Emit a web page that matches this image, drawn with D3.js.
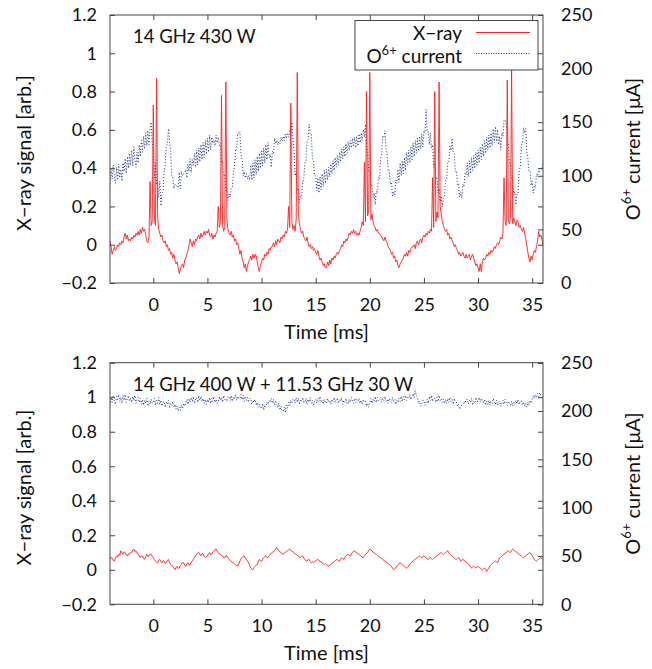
<!DOCTYPE html>
<html><head><meta charset="utf-8">
<script src="https://cdn.jsdelivr.net/npm/d3@7"></script>
<style>
body{margin:0;background:#fff}
text{font-family:Lato, "Open Sans", sans-serif; fill:#111;}
</style>
</head><body>
<svg id="chart" width="652" height="669"></svg>
<script>
// ---- data ----
const tStart = -4;          // ms, first sample
const tStep = 0.1;          // ms between samples

// Top panel: 14 GHz 430 W
const xrayTop = [
0.02,-0.01,-0.05,-0.03,-0.01,-0.03,-0.02,0.00,-0.01,0.01,
0.00,0.02,0.01,0.04,0.06,0.03,0.05,0.02,0.03,0.02,
0.04,0.03,0.05,0.04,0.06,0.05,0.07,0.05,0.08,0.06,
0.09,0.07,0.08,0.05,0.02,0.01,0.04,0.33,0.10,0.12,
0.73,0.14,0.10,0.87,0.15,0.08,0.06,0.04,0.05,0.02,
0.01,0.02,-0.01,0.00,-0.03,-0.02,-0.05,-0.04,-0.07,-0.05,
-0.08,-0.10,-0.09,-0.12,-0.15,-0.13,-0.11,-0.10,-0.12,-0.08,
-0.07,-0.05,-0.03,0.00,0.03,0.01,-0.01,0.02,0.00,0.03,
0.02,0.04,0.05,0.03,0.06,0.04,0.05,0.07,0.05,0.07,
0.06,0.08,0.05,0.04,0.06,0.03,0.05,0.04,0.06,0.07,
0.20,0.09,0.12,0.78,0.10,0.07,0.09,0.85,0.13,0.08,
0.06,0.05,0.07,0.04,0.05,0.02,0.03,0.00,0.01,-0.02,
-0.05,-0.03,-0.07,-0.09,-0.12,-0.10,-0.14,-0.11,-0.09,-0.08,
-0.06,-0.08,-0.05,-0.07,-0.05,-0.06,-0.09,-0.12,-0.14,-0.11,
-0.09,-0.07,-0.08,-0.05,-0.06,-0.04,-0.05,-0.02,-0.03,-0.01,
-0.01,0.01,-0.01,0.02,0.00,0.03,0.02,0.01,0.04,0.03,
0.05,0.04,0.07,0.06,0.08,0.20,0.09,0.74,0.12,0.08,
0.10,0.07,0.13,0.90,0.16,0.11,0.08,0.06,0.07,0.04,
0.03,0.02,0.04,0.01,-0.01,0.00,-0.02,-0.01,-0.03,-0.02,
-0.04,-0.05,-0.03,-0.06,-0.08,-0.07,-0.09,-0.11,-0.10,-0.12,
-0.12,-0.09,-0.11,-0.08,-0.10,-0.07,-0.08,-0.06,-0.07,-0.05,
-0.04,-0.05,-0.03,-0.02,0.00,-0.01,0.02,0.01,0.03,0.02,
0.04,0.06,0.05,0.07,0.06,0.08,0.06,0.07,0.05,0.06,
0.05,0.07,0.09,0.12,0.10,0.43,0.12,0.80,0.15,0.18,
0.90,0.13,0.16,0.12,0.10,0.09,0.07,0.08,0.06,0.06,
0.05,0.04,0.03,0.02,0.04,0.02,0.01,-0.01,-0.02,-0.03,
-0.05,-0.04,-0.07,-0.06,-0.09,-0.08,-0.11,-0.12,-0.10,-0.09,
-0.08,-0.07,-0.05,-0.06,-0.04,-0.06,-0.03,-0.04,-0.02,-0.01,
-0.01,0.00,-0.02,0.01,0.02,0.00,0.02,0.03,0.01,0.04,
0.05,0.04,0.06,0.05,0.07,0.06,0.08,0.07,0.35,0.09,
0.80,0.12,0.17,0.14,0.85,0.20,0.16,0.12,0.10,0.08,
0.07,0.08,0.05,0.06,0.03,0.04,0.02,0.01,-0.01,0.00,
-0.02,-0.03,-0.05,-0.04,-0.06,-0.05,-0.04,-0.06,-0.07,-0.05,
-0.07,-0.06,-0.05,-0.08,-0.06,-0.05,-0.07,-0.09,-0.11,-0.10,
-0.12,-0.14,-0.10,-0.14,-0.09,-0.07,-0.08,-0.07,-0.05,-0.06,
-0.04,-0.05,-0.03,-0.04,-0.03,-0.01,-0.02,0.00,0.01,0.00,
0.02,0.04,0.03,0.06,0.35,0.12,0.10,0.86,0.13,0.11,
0.15,0.93,0.11,0.14,0.12,0.10,0.13,0.12,0.09,0.10,
0.08,0.07,0.09,0.06,0.03,0.00,-0.04,-0.07,-0.09,-0.06,
-0.08,-0.05,-0.03,-0.04,-0.01,0.02,0.07,0.04,0.05,0.03,
-0.01
];

const currentTop = [
92,106,97,110,99,93,108,96,111,98,
106,95,112,104,116,102,118,107,121,110,
124,109,127,114,108,122,112,129,118,133,
122,137,125,140,128,142,129,144,150,132,
122,98,112,92,95,80,95,72,84,85,
104,110,128,130,144,132,124,100,99,88,
92,91,90,89,103,88,104,100,102,103,
106,98,111,104,116,103,115,110,121,108,
124,110,126,113,129,115,131,117,133,120,
135,122,138,124,136,130,134,128,138,131,
136,128,130,112,114,100,101,86,88,77,
83,80,88,89,104,108,125,124,140,139,
141,120,117,100,104,98,102,97,100,96,
110,96,112,98,115,101,118,104,121,107,
123,109,126,112,129,115,131,117,120,108,
123,121,135,130,133,129,132,130,136,132,
137,133,139,135,140,136,142,140,150,136,
124,100,103,86,88,75,81,79,94,97,
112,114,133,134,148,139,139,116,114,100,
100,86,98,84,99,87,102,90,105,93,
106,96,108,99,111,102,114,105,117,108,
119,110,122,113,125,116,127,118,130,121,
132,124,133,126,135,127,136,126,137,128,
139,131,140,133,143,136,148,128,122,104,
104,90,92,80,84,73,86,84,99,97,
116,120,137,136,142,124,121,104,105,92,
94,81,85,82,96,93,106,94,112,100,
114,102,117,105,122,110,124,112,127,115,
131,118,133,121,135,123,137,125,139,127,
142,140,162,142,142,129,140,126,129,108,
112,97,99,84,88,76,81,71,80,81,
96,97,112,112,128,124,135,122,121,104,
105,91,92,80,85,79,92,90,103,101,
112,99,114,102,117,105,119,107,122,110,
124,112,127,115,130,118,133,121,136,124,
138,126,140,128,144,131,146,132,143,129,
137,124,140,137,152,151,151,134,130,111,
112,96,96,82,85,73,84,84,105,108,
128,131,145,140,144,122,117,104,104,91,
95,84,91,89,102,100,105,104,108,106,
114
];

// Bottom panel: 14 GHz 400 W + 11.53 GHz 30 W
const xrayBottom = [
0.060,0.072,0.068,0.055,0.050,0.066,0.080,0.074,0.090,0.083,
0.110,0.098,0.090,0.104,0.100,0.088,0.080,0.093,0.090,0.101,
0.100,0.115,0.120,0.108,0.110,0.097,0.090,0.082,0.070,0.079,
0.080,0.068,0.060,0.075,0.090,0.078,0.080,0.092,0.090,0.078,
0.070,0.060,0.050,0.045,0.040,0.055,0.060,0.048,0.040,0.052,
0.050,0.038,0.040,0.055,0.060,0.042,0.030,0.025,0.020,0.012,
0.000,0.012,0.020,0.008,0.010,0.024,0.030,0.042,0.040,0.028,
0.020,0.034,0.040,0.028,0.030,0.045,0.050,0.062,0.070,0.080,
0.090,0.098,0.100,0.088,0.080,0.094,0.090,0.078,0.070,0.076,
0.080,0.092,0.100,0.088,0.090,0.104,0.110,0.116,0.120,0.108,
0.100,0.092,0.090,0.082,0.080,0.070,0.070,0.082,0.080,0.068,
0.060,0.054,0.050,0.042,0.040,0.034,0.030,0.024,0.020,0.034,
0.050,0.062,0.070,0.078,0.080,0.070,0.060,0.052,0.040,0.024,
0.010,0.004,0.000,0.012,0.020,0.026,0.030,0.046,0.060,0.052,
0.050,0.062,0.070,0.078,0.080,0.072,0.070,0.082,0.090,0.096,
0.100,0.108,0.110,0.122,0.130,0.118,0.110,0.104,0.100,0.092,
0.090,0.098,0.100,0.108,0.110,0.116,0.120,0.112,0.110,0.104,
0.100,0.092,0.090,0.084,0.080,0.074,0.070,0.078,0.080,0.068,
0.060,0.052,0.050,0.058,0.060,0.048,0.040,0.046,0.040,0.048,
0.050,0.058,0.060,0.052,0.050,0.044,0.040,0.034,0.030,0.036,
0.030,0.022,0.020,0.028,0.030,0.038,0.040,0.046,0.050,0.058,
0.060,0.052,0.050,0.062,0.070,0.064,0.060,0.072,0.080,0.086,
0.090,0.082,0.080,0.092,0.100,0.108,0.110,0.102,0.100,0.094,
0.090,0.084,0.080,0.072,0.070,0.082,0.090,0.094,0.100,0.112,
0.120,0.114,0.110,0.102,0.100,0.092,0.090,0.084,0.080,0.074,
0.070,0.064,0.060,0.054,0.050,0.044,0.040,0.036,0.030,0.024,
0.020,0.008,0.000,0.006,0.010,0.022,0.030,0.036,0.040,0.034,
0.030,0.024,0.020,0.012,0.010,0.016,0.020,0.032,0.040,0.046,
0.050,0.056,0.060,0.068,0.070,0.078,0.080,0.074,0.070,0.076,
0.080,0.074,0.070,0.062,0.060,0.068,0.070,0.064,0.060,0.066,
0.070,0.078,0.080,0.088,0.090,0.096,0.100,0.094,0.090,0.096,
0.100,0.106,0.110,0.098,0.090,0.084,0.080,0.074,0.070,0.064,
0.060,0.066,0.070,0.062,0.050,0.056,0.060,0.054,0.050,0.044,
0.040,0.034,0.030,0.018,0.010,0.016,0.020,0.014,0.010,0.016,
0.020,0.014,0.010,0.004,0.000,0.006,0.010,0.002,-0.010,0.002,
0.010,0.022,0.030,0.036,0.040,0.046,0.050,0.046,0.040,0.054,
0.070,0.074,0.080,0.086,0.090,0.096,0.100,0.106,0.110,0.104,
0.100,0.112,0.120,0.114,0.110,0.104,0.100,0.094,0.090,0.084,
0.080,0.074,0.070,0.076,0.080,0.086,0.090,0.096,0.100,0.092,
0.080,0.072,0.060,0.054,0.050,0.056,0.060,0.066,0.070,0.064,
0.070
];

const currentBottom = [
206,214,209,216,211,207,215,212,217,210,
214,208,216,211,217,209,213,216,210,214,
209,215,211,216,208,212,214,209,213,207,
212,206,211,208,213,205,210,207,212,208,
209,213,206,211,208,214,207,211,205,209,
210,204,209,207,211,203,208,206,210,204,
207,202,205,200,204,201,206,203,208,205,
208,212,207,213,209,214,210,215,208,212,
214,209,216,211,215,210,213,208,212,207,
212,209,214,208,213,210,215,209,212,208,
210,215,211,214,209,216,212,213,210,215,
215,211,216,210,214,212,217,211,215,213,
213,217,212,216,210,215,211,214,209,213,
213,207,211,209,212,206,209,204,207,203,
203,208,201,206,204,209,207,211,209,213,
208,212,206,211,207,204,208,201,205,200,
200,204,199,206,203,209,206,211,208,212,
212,208,214,209,213,207,212,210,214,209,
209,213,207,212,209,214,208,211,206,210,
212,208,213,210,215,209,211,207,212,209,
208,213,209,211,207,212,210,214,209,212,
213,208,212,210,214,207,211,209,213,208,
207,212,209,214,211,208,213,209,212,210,
213,208,211,207,212,209,210,205,208,204,
209,213,208,212,210,215,209,214,211,213,
214,209,213,211,215,210,212,208,213,210,
209,214,210,212,207,211,209,213,210,215,
210,215,212,216,211,214,213,217,212,215,
218,214,221,216,214,208,210,205,207,211,
211,206,209,212,208,215,211,216,210,213,
213,209,214,210,216,211,213,209,212,208,
212,208,213,209,214,210,212,207,213,210,
209,205,207,202,204,206,207,210,208,212,
212,207,211,209,213,206,210,208,214,210,
210,214,209,213,211,208,212,206,210,207,
211,206,210,208,213,209,207,211,206,209,
210,205,208,211,207,212,209,206,210,208,
206,210,205,209,207,211,208,212,207,210,
211,206,209,205,208,204,209,206,211,208,
212,216,213,217,214,218,215,219,216,214,
216
];

const xTicks = [0,5,10,15,20,25,30,35];
const yLeftTicks = [-0.2,0,0.2,0.4,0.6,0.8,1,1.2];
const yRightTicks = [0,50,100,150,200,250];
const panelLabels = ["14 GHz 430 W", "14 GHz 400 W + 11.53 GHz 30 W"];
const seriesNames = ["X\u2212ray", "current"];

// ---- layout ----
const svg = d3.select("#chart");
const left = 110, right = 543;
const panels = [
  {top: 15, bottom: 283, xray: xrayTop, cur: currentTop, label: panelLabels[0], legend: true},
  {top: 362.7, bottom: 604.3, xray: xrayBottom, cur: currentBottom, label: panelLabels[1], legend: false}
];
const red = "#ff1f1f", blue = "#23368c", frameCol = "#444";
const tickFont = 18, titleFont = 20, labelFont = 18.5;

const x = d3.scaleLinear().domain([-4, 36]).range([left, right]);
const fmt = d3.format("~g");

panels.forEach((p, pi) => {
  const y = d3.scaleLinear().domain([-0.2, 1.2]).range([p.bottom, p.top]);
  const y2 = d3.scaleLinear().domain([0, 250]).range([p.bottom, p.top]);
  const g = svg.append("g");
  const clipId = "clip" + pi;
  svg.append("clipPath").attr("id", clipId).append("rect")
    .attr("x", left).attr("y", p.top).attr("width", right - left).attr("height", p.bottom - p.top);

  // series
  const lineCur = d3.line().x((d, i) => x(tStart + i * tStep)).y(d => y2(d));
  const lineX = d3.line().x((d, i) => x(tStart + i * tStep)).y(d => y(d));
  g.append("path").datum(p.cur).attr("d", lineCur).attr("clip-path", `url(#${clipId})`)
    .attr("fill", "none").attr("stroke", blue).attr("stroke-width", 1).attr("stroke-dasharray", "1,2");
  g.append("path").datum(p.xray).attr("d", lineX).attr("clip-path", `url(#${clipId})`)
    .attr("fill", "none").attr("stroke", red).attr("stroke-width", 0.9);

  // axes
  const styleAxis = sel => {
    sel.select(".domain").remove();
    sel.selectAll(".tick line").attr("stroke", frameCol);
    sel.selectAll("text").attr("font-size", tickFont).attr("fill", "#111").attr("font-family", "Lato, sans-serif");
  };
  g.append("g").attr("transform", `translate(0,${p.bottom})`)
    .call(d3.axisBottom(x).tickValues(xTicks).tickSize(-5).tickPadding(15).tickFormat(fmt)).call(styleAxis);
  g.append("g").attr("transform", `translate(0,${p.top})`)
    .call(d3.axisTop(x).tickValues(xTicks).tickSize(-5).tickFormat("")).call(styleAxis);
  g.append("g").attr("transform", `translate(${left},0)`)
    .call(d3.axisLeft(y).tickValues(yLeftTicks).tickSize(-5).tickPadding(13).tickFormat(fmt)).call(styleAxis);
  g.append("g").attr("transform", `translate(${right},0)`)
    .call(d3.axisRight(y).tickValues(yLeftTicks).tickSize(-5).tickFormat("")).call(styleAxis);
  g.append("g").attr("transform", `translate(${right},0)`)
    .call(d3.axisRight(y2).tickValues(yRightTicks).tickSize(-5).tickPadding(18).tickFormat(fmt)).call(styleAxis);

  // frame
  g.append("rect").attr("x", left).attr("y", p.top).attr("width", right - left).attr("height", p.bottom - p.top)
    .attr("fill", "none").attr("stroke", frameCol).attr("stroke-width", 1);

  // axis titles
  g.append("text").attr("x", (left + right) / 2).attr("y", p.bottom + 56)
    .attr("text-anchor", "middle").attr("font-size", titleFont).text("Time [ms]");
  const midY = (p.top + p.bottom) / 2;
  g.append("text").attr("transform", `translate(31,${midY + 4}) rotate(-90)`)
    .attr("text-anchor", "middle").attr("font-size", titleFont).text("X\u2212ray signal [arb.]");
  const rt = g.append("text").attr("transform", `translate(640,${midY}) rotate(-90)`)
    .attr("text-anchor", "middle").attr("font-size", titleFont);
  rt.append("tspan").text("O");
  rt.append("tspan").attr("font-size", 13).attr("dy", -9).text("6+");
  rt.append("tspan").attr("dy", 9).text(" current [\u03bcA]");

  // panel label
  g.append("text").attr("x", 133).attr("y", p.top + 28).attr("font-size", labelFont).text(p.label);

  // legend
  if (p.legend) {
    const lg = g.append("g");
    lg.append("rect").attr("x", 355).attr("y", 20.5).attr("width", 183).attr("height", 49.5)
      .attr("fill", "#fff").attr("stroke", frameCol).attr("stroke-width", 1);
    lg.append("text").attr("x", 462).attr("y", 40).attr("text-anchor", "end").attr("font-size", 19).text(seriesNames[0]);
    const t2 = lg.append("text").attr("x", 462).attr("y", 63).attr("text-anchor", "end").attr("font-size", 19);
    t2.append("tspan").text("O");
    t2.append("tspan").attr("font-size", 13).attr("dy", -8).text("6+");
    t2.append("tspan").attr("dy", 8).text(" " + seriesNames[1]);
    lg.append("line").attr("x1", 476).attr("x2", 530).attr("y1", 32.5).attr("y2", 32.5)
      .attr("stroke", red).attr("stroke-width", 1);
    lg.append("line").attr("x1", 476).attr("x2", 530).attr("y1", 53.5).attr("y2", 53.5)
      .attr("stroke", "#2233cc").attr("stroke-width", 1).attr("stroke-dasharray", "1,1.5");
  }
});
</script>
</body></html>
